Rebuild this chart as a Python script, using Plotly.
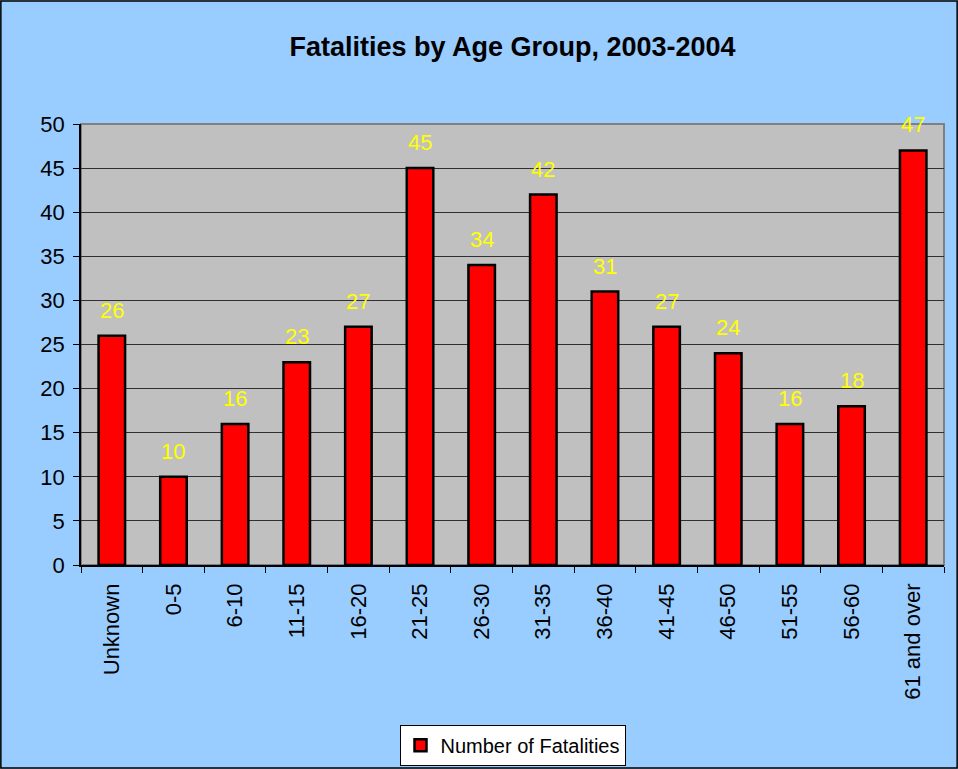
import plotly.graph_objects as go

# data
age_groups = ["Unknown", "0-5", "6-10", "11-15", "16-20", "21-25", "26-30",
              "31-35", "36-40", "41-45", "46-50", "51-55", "56-60", "61 and over"]
fatalities = [26, 10, 16, 23, 27, 45, 34, 42, 31, 27, 24, 16, 18, 47]

W, H = 958, 769
ML, MR, MT, MB = 81, 14, 124, 204
PW = W - ML - MR
PH = H - MT - MB
FONT = "Arial, Liberation Sans"

fig = go.Figure()
fig.add_trace(go.Bar(
    x=age_groups,
    y=fatalities,
    name="Number of Fatalities",
    marker=dict(color="#FF0000", line=dict(color="black", width=2.5)),
    width=0.43,
))

# yellow value labels floating above bars
for cat, val in zip(age_groups, fatalities):
    fig.add_annotation(
        x=cat, y=val, text=str(val), showarrow=False,
        yanchor="bottom", yshift=11,
        font=dict(family=FONT, size=22, color="#FFFF00"),
    )

# outer frame of the chart
fig.add_shape(
    type="rect", xref="paper", yref="paper",
    x0=-ML / PW + 0.001, x1=1 + MR / PW - 0.001,
    y0=-MB / PH + 0.002, y1=1 + MT / PH - 0.002,
    line=dict(color="black", width=1.5), layer="below",
)

fig.update_layout(
    width=W, height=H,
    margin=dict(l=ML, r=MR, t=MT, b=MB, autoexpand=False),
    paper_bgcolor="#99CCFF",
    plot_bgcolor="#C0C0C0",
    font=dict(family=FONT, size=22, color="black"),
    title=dict(
        text="<b>Fatalities by Age Group, 2003-2004</b>",
        x=0.5, xref="paper", y=0.94, yanchor="middle",
        font=dict(size=27, color="black"),
    ),
    showlegend=True,
    legend=dict(
        orientation="h", x=0.5, xanchor="center", y=-0.362, yanchor="top",
        bgcolor="white", bordercolor="black", borderwidth=1,
        font=dict(size=20),
    ),
    xaxis=dict(
        type="category", tickangle=-90, tickson="boundaries",
        ticks="outside", ticklen=6, tickcolor="black", ticklabelstandoff=8,
        showline=True, linecolor="black", linewidth=1.5,
        showgrid=False, mirror=False, automargin=False,
    ),
    yaxis=dict(
        range=[0, 50], dtick=5, ticks="outside", ticklen=6, tickcolor="black",
        ticklabelstandoff=4,
        showline=True, linecolor="black", linewidth=1.5,
        showgrid=True, gridcolor="#303030", gridwidth=1,
        zeroline=False, automargin=False,
    ),
)

# gray border on top/right of plot area
fig.add_shape(type="rect", xref="paper", yref="paper", x0=0, x1=1, y0=0, y1=1,
              line=dict(color="#808080", width=2), layer="below")

fig.write_html(
    "out.html",
    config={"displayModeBar": False},
    post_script="document.body.style.margin='0';document.body.style.overflow='hidden';",
)
